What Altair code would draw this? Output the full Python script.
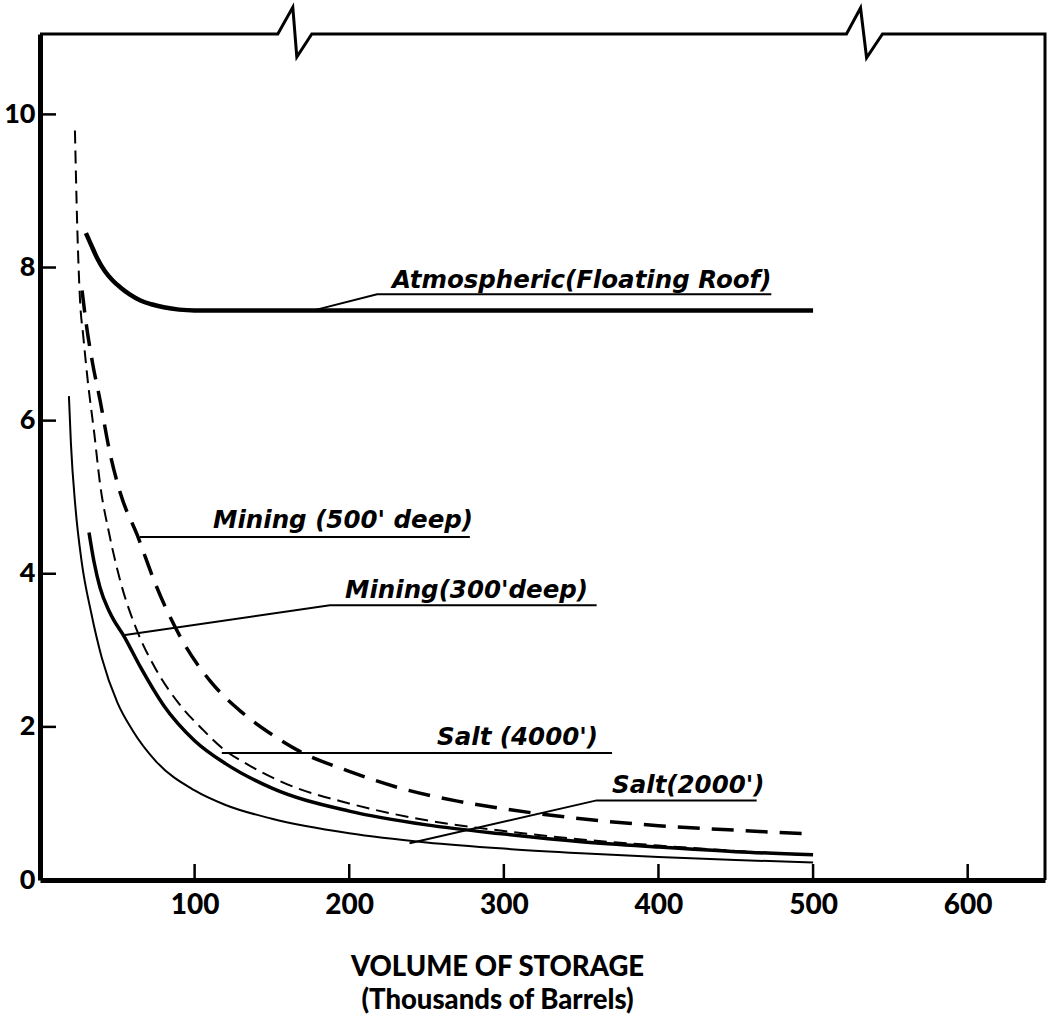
import altair as alt
import pandas as pd

# ---------------- data ----------------
# Volume of storage, thousands of barrels (x) vs cost (y)
atm_x = [29.7, 33, 37, 42, 47, 52, 58, 65, 72, 80, 90, 100, 500]
atm_y = [8.45, 8.30, 8.12, 7.95, 7.83, 7.74, 7.65, 7.57, 7.52, 7.48, 7.45, 7.44, 7.44]

m500_x = [27.2, 30, 34, 38.8, 45, 52, 63, 75, 92, 110, 130, 150, 168, 200, 233, 270, 300, 350, 400, 450, 500]
m500_y = [7.70, 7.25, 6.75, 6.27, 5.60, 5.05, 4.50, 3.85, 3.13, 2.60, 2.20, 1.90, 1.68, 1.42, 1.20, 1.03, 0.93, 0.80, 0.71, 0.65, 0.60]

m300_x = [31.7, 35, 38.8, 45, 55, 65, 80, 100, 120, 150, 200, 250, 300, 350, 400, 450, 500]
m300_y = [4.54, 4.15, 3.82, 3.50, 3.16, 2.78, 2.28, 1.82, 1.52, 1.20, 0.90, 0.72, 0.60, 0.50, 0.43, 0.37, 0.33]

s4000_x = [22.6, 24, 25.9, 28, 31, 35, 38.8, 45, 52, 62.7, 75, 90, 105, 118, 135, 160, 200, 250, 300, 350, 400, 450, 500]
s4000_y = [9.79, 8.60, 7.57, 7.10, 6.50, 5.85, 5.18, 4.50, 3.90, 3.26, 2.75, 2.30, 1.97, 1.72, 1.50, 1.25, 1.00, 0.78, 0.64, 0.53, 0.45, 0.38, 0.32]

s2000_x = [18.7, 20, 23, 27, 33, 40, 50, 60, 75, 100, 120, 150, 200, 250, 300, 350, 400, 450, 500]
s2000_y = [6.32, 5.70, 4.85, 4.15, 3.50, 2.90, 2.32, 1.95, 1.55, 1.17, 0.98, 0.80, 0.61, 0.49, 0.41, 0.35, 0.30, 0.26, 0.23]

x_ticks = [100, 200, 300, 400, 500, 600]
y_ticks = [0, 2, 4, 6, 8, 10]

# annotation labels (x, baseline y) and their leader lines
label_text = ["Atmospheric(Floating Roof)", "Mining (500' deep)", "Mining(300'deep)",
              "Salt (4000')", "Salt(2000')"]
label_x = [227.7, 111.9, 197.3, 256.8, 370.0]
label_y = [7.73, 4.60, 3.68, 1.76, 1.14]

leader_grp = ["atm", "atm", "atm", "m500", "m500", "m300", "m300", "m300",
              "s4000", "s4000", "s2000", "s2000", "s2000"]
leader_x = [177, 218, 473, 64.6, 278, 55, 187.5, 360, 117.6, 370, 239, 360, 463.5]
leader_y = [7.44, 7.65, 7.65, 4.48, 4.48, 3.20, 3.59, 3.59, 1.66, 1.66, 0.48, 1.04, 1.04]

# top/right border with the two break symbols
frame_x = [0, 153.8, 163.5, 166.1, 175.8, 521.6, 530.7, 534.6, 544.9, 650, 650]
frame_y = [11.05, 11.05, 11.40, 10.75, 11.05, 11.05, 11.39, 10.74, 11.05, 11.05, 0]

# ---------------- chart ----------------
W, H = 1005, 846
X_MAX, Y_MAX = 650, 11.05
FONT = "Lato"
LFONT = "DejaVu Sans"

xs = alt.Scale(domain=[0, X_MAX], nice=False, zero=False)
ys = alt.Scale(domain=[0, Y_MAX], nice=False, zero=False)

x_axis = alt.Axis(values=x_ticks, tickSize=0, domainWidth=5, domainColor="black",
                  labelFont=FONT, labelFontSize=28, labelFontWeight=900, labelColor="black",
                  labelPadding=11, grid=False, labelOverlap=False,
                  title=["VOLUME OF STORAGE", "(Thousands of Barrels)"],
                  titleFont=FONT, titleFontSize=27.5, titleFontWeight=900, titleColor="black",
                  titleX=457, titleY=95, titleAlign="center", titleBaseline="alphabetic",
                  titleLineHeight=33, titleAnchor="start")
y_axis = alt.Axis(values=y_ticks, tickSize=0, domainWidth=5, domainColor="black",
                  labelFont=FONT, labelFontSize=27, labelFontWeight=900, labelColor="black",
                  labelPadding=5, grid=False, labelOverlap=False, title="")

X = alt.X("x:Q", scale=xs, axis=x_axis)
Y = alt.Y("y:Q", scale=ys, axis=y_axis)


def curve(xv, yv, width, dash):
    df = pd.DataFrame({"x": xv, "y": yv})
    kw = dict(strokeWidth=width, color="black", interpolate="monotone")
    if dash:
        kw["strokeDash"] = dash
    return alt.Chart(df).mark_line(**kw).encode(x=X, y=Y)


layers = [
    curve(atm_x, atm_y, 4.5, None),
    curve(m500_x, m500_y, 3.5, [22, 12]),
    curve(m300_x, m300_y, 3.5, None),
    curve(s4000_x, s4000_y, 2, [13, 7]),
    curve(s2000_x, s2000_y, 2, None),
]

# inward tick marks
ytick_df = pd.DataFrame({"y": y_ticks[1:]})
xtick_df = pd.DataFrame({"x": x_ticks})
layers.append(alt.Chart(ytick_df).mark_rule(color="black", strokeWidth=2.5).encode(
    y=Y, x=alt.value(0), x2=alt.value(16)))
layers.append(alt.Chart(xtick_df).mark_rule(color="black", strokeWidth=2.5).encode(
    x=X, y=alt.value(H), y2=alt.value(H - 16)))

# border with breaks
frame_df = pd.DataFrame({"x": frame_x, "y": frame_y, "o": list(range(len(frame_x)))})
layers.append(alt.Chart(frame_df).mark_line(color="black", strokeWidth=3, clip=False).encode(
    x=X, y=Y, order=alt.Order("o:Q")))

# leader lines
lead_df = pd.DataFrame({"x": leader_x, "y": leader_y, "g": leader_grp,
                        "o": list(range(len(leader_x)))})
layers.append(alt.Chart(lead_df).mark_line(color="black", strokeWidth=2).encode(
    x=X, y=Y, detail="g:N", order=alt.Order("o:Q")))

# labels
lab_df = pd.DataFrame({"x": label_x, "y": label_y, "t": label_text})
layers.append(alt.Chart(lab_df).mark_text(align="left", baseline="alphabetic", font=LFONT,
                                          fontSize=24.5, fontStyle="italic", fontWeight="bold",
                                          color="black").encode(x=X, y=Y, text="t:N"))

chart = alt.layer(*layers).properties(
    width=W, height=H,
    padding={"left": 40, "top": 34, "right": 5, "bottom": 148},
    autosize=alt.AutoSizeParams(type="none"),
    background="white",
).configure_view(strokeWidth=0)

chart.save("out.html", embed_options={"renderer": "svg", "actions": False})
